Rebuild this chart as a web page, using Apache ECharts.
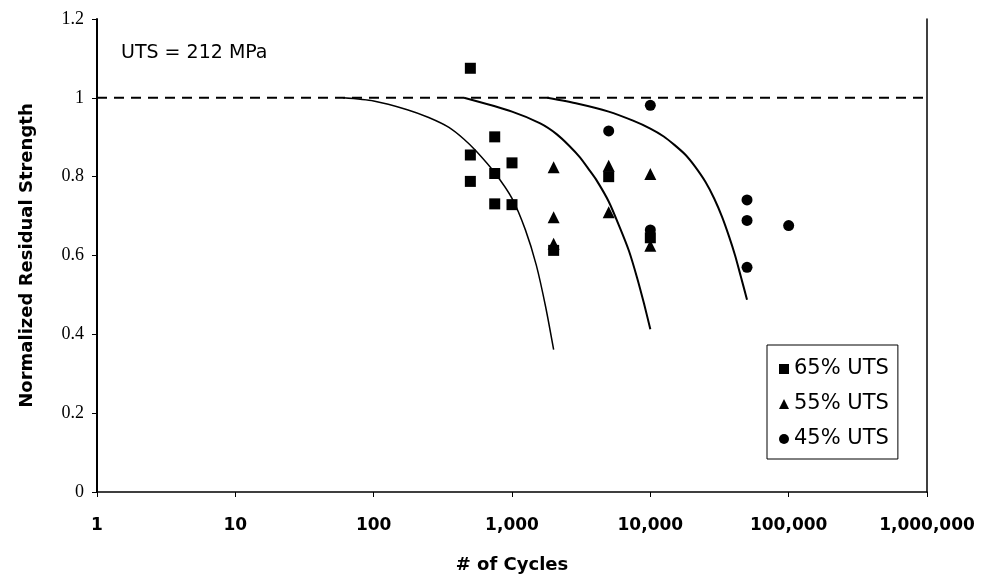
<!DOCTYPE html>
<html>
<head>
<meta charset="utf-8">
<script src="https://cdn.jsdelivr.net/npm/echarts@6/dist/echarts.min.js"></script>
<style>
  html, body { margin: 0; padding: 0; background: #fff; }
  #chart { width: 985px; height: 579px; }
</style>
</head>
<body>
<div id="chart"></div>
<script>
// measured points, [cycles, normalized residual strength]
var uts65 = [[500, 1.075], [500, 0.855], [500, 0.788], [750, 0.901], [750, 0.808], [750, 0.731],
    [1000, 0.835], [1000, 0.729], [2000, 0.613], [5000, 0.80], [10000, 0.645]];
var uts55 = [[2000, 0.824], [2000, 0.697], [2000, 0.63], [5000, 0.828], [5000, 0.71],
    [10000, 0.807], [10000, 0.625]];
var uts45 = [[5000, 0.916], [10000, 0.981], [10000, 0.665], [50000, 0.741], [50000, 0.689],
    [50000, 0.57], [100000, 0.676]];

// model curves
var curve65 = [[60, 1.0], [100, 0.992], [175, 0.97], [250, 0.95], [350, 0.925], [450, 0.895], [550, 0.865],
    [750, 0.81], [1000, 0.745], [1250, 0.665], [1500, 0.575], [1750, 0.47], [2000, 0.361]];
var curve55 = [[450, 1.0], [1000, 0.965], [1600, 0.935], [2100, 0.908], [2600, 0.878], [3100, 0.849],
    [3600, 0.818], [4100, 0.79], [5000, 0.737], [6000, 0.672], [7000, 0.612], [8000, 0.545],
    [9000, 0.478], [10000, 0.413]];
var curve45 = [[1800, 1.0], [3000, 0.985], [5000, 0.965], [7500, 0.942], [10000, 0.922], [12500, 0.902],
    [15000, 0.88], [18000, 0.855], [21000, 0.826], [25000, 0.787], [29000, 0.744], [33000, 0.698],
    [37000, 0.649], [41000, 0.60], [45000, 0.548], [50000, 0.488]];

var refLine = [[1, 1], [1000000, 1]];

var seriesNames = ['65% UTS', '55% UTS', '45% UTS'];
var legendIcons = ['rect', 'triangle', 'circle'];

var chart = echarts.init(document.getElementById('chart'));

function scatter(name, data, symbol, size) {
    return {
        name: name,
        type: 'scatter',
        data: data,
        symbol: symbol,
        symbolSize: size,
        itemStyle: { color: '#000', opacity: 1 },
        z: 5
    };
}

function curve(data, width) {
    return {
        type: 'line',
        data: data,
        smooth: 0.25,
        showSymbol: false,
        silent: true,
        lineStyle: { color: '#000', width: width },
        z: 3
    };
}

chart.setOption({
    backgroundColor: '#fff',
    animation: false,
    grid: { left: 97, right: 58, top: 19, bottom: 87 },
    xAxis: {
        type: 'log',
        logBase: 10,
        min: 1,
        max: 1000000,
        name: '# of Cycles',
        nameLocation: 'middle',
        nameGap: 64,
        nameTextStyle: { fontFamily: 'DejaVu Sans', fontWeight: 'bold', fontSize: 18, color: '#000' },
        axisLine: { lineStyle: { color: '#000', width: 1.5 } },
        axisTick: { length: 5, lineStyle: { color: '#000' } },
        minorTick: { show: false },
        splitLine: { show: false },
        axisLabel: {
            margin: 25,
            fontFamily: 'DejaVu Sans',
            fontWeight: 'bold',
            fontSize: 17,
            color: '#000',
            formatter: function (v) { return Math.round(v).toLocaleString('en-US'); }
        }
    },
    yAxis: [{
        type: 'value',
        min: 0,
        max: 1.2,
        interval: 0.2,
        name: 'Normalized Residual Strength',
        nameLocation: 'middle',
        nameGap: 61,
        nameTextStyle: { fontFamily: 'DejaVu Sans', fontWeight: 'bold', fontSize: 18, color: '#000' },
        axisLine: { show: true, lineStyle: { color: '#000', width: 2 } },
        axisTick: { show: true, length: 5, lineStyle: { color: '#000' } },
        splitLine: { show: false },
        axisLabel: {
            margin: 13,
            fontFamily: 'Liberation Serif',
            fontSize: 18,
            color: '#000',
            formatter: function (v) { return String(Math.round(v * 10) / 10); }
        }
    }, {
        type: 'value',
        position: 'right',
        min: 0,
        max: 1.2,
        axisLine: { show: true, lineStyle: { color: '#000', width: 1.5 } },
        axisTick: { show: false },
        axisLabel: { show: false },
        splitLine: { show: false }
    }],
    legend: {
        data: seriesNames.map(function (n, i) { return { name: n, icon: legendIcons[i] }; }),
        orient: 'vertical',
        left: 767,
        top: 345,
        padding: [13, 9, 9, 12],
        itemGap: 13,
        itemWidth: 10,
        itemHeight: 10,
        borderColor: '#000',
        borderWidth: 1,
        backgroundColor: '#fff',
        textStyle: { fontFamily: 'DejaVu Sans', fontSize: 21, lineHeight: 22, color: '#000' }
    },
    graphic: [{
        type: 'text',
        style: {
            x: 121,
            y: 53,
            text: 'UTS = 212 MPa',
            fontFamily: 'DejaVu Sans',
            fontSize: 19,
            fill: '#000',
            verticalAlign: 'middle'
        }
    }],
    series: [
        {
            type: 'line',
            data: refLine,
            showSymbol: false,
            silent: true,
            lineStyle: { color: '#000', width: 2, type: [10, 7] },
            z: 2
        },
        curve(curve65, 1.5),
        curve(curve55, 2),
        curve(curve45, 2),
        scatter(seriesNames[0], uts65, 'rect', 11),
        scatter(seriesNames[1], uts55, 'triangle', 12),
        scatter(seriesNames[2], uts45, 'circle', 11)
    ]
});
</script>
</body>
</html>
